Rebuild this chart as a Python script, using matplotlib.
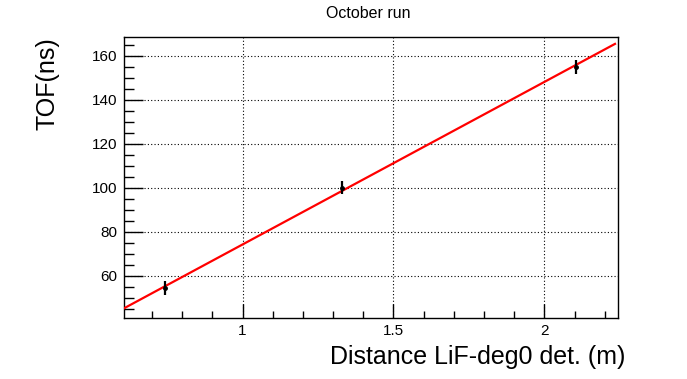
import matplotlib
matplotlib.use("Agg")
import matplotlib.pyplot as plt
import numpy as np
from matplotlib.ticker import MultipleLocator

plt.rcParams['font.family'] = ['Liberation Sans', 'DejaVu Sans']

distance = [0.743, 1.331, 2.105]
tof = [54.7, 100.1, 155.0]
tof_err = [3.2, 3.0, 3.2]
fit_slope = 73.8
fit_intercept = 0.5
fit_range = [0.607, 2.234]
x_range = [0.607, 2.244]
y_range = [40.9, 168.5]
title = "October run"
xlabel = "Distance LiF-deg0 det. (m)"
ylabel = "TOF(ns)"

fig = plt.figure(figsize=(6.87, 3.79), dpi=100)
ax = fig.add_axes([124/687, 1-318/379, (618-124)/687, (318-37)/379])

ax.set_xlim(*x_range)
ax.set_ylim(*y_range)

xf = np.array(fit_range)
ax.plot(xf, fit_intercept + fit_slope * xf, color='#ff0000', lw=1.6, zorder=3)
ax.errorbar(distance, tof, yerr=tof_err, fmt='o', ms=2.5, color='black',
            ecolor='black', elinewidth=1.6, capsize=0, zorder=4)

ax.xaxis.set_major_locator(MultipleLocator(0.5))
ax.xaxis.set_minor_locator(MultipleLocator(0.1))
ax.yaxis.set_major_locator(MultipleLocator(20))
ax.yaxis.set_minor_locator(MultipleLocator(5))
ax.xaxis.set_major_formatter(matplotlib.ticker.FuncFormatter(lambda v, p: f"{v:g}"))

ax.tick_params(axis='both', which='both', direction='in', color='black',
               labelsize=11, top=False, right=False)
ax.tick_params(axis='y', which='major', length=14, width=1, pad=5)
ax.tick_params(axis='y', which='minor', length=7, width=1)
ax.tick_params(axis='x', which='major', length=10, width=1, pad=4)
ax.tick_params(axis='x', which='minor', length=5, width=1)

ax.grid(True, which='major', color='black', linestyle=(0, (1, 2)), lw=0.8)
for s in ax.spines.values():
    s.set_linewidth(1)
    s.set_color('black')

fig.text(368/687, 1-14/379, title, ha='center', va='center', fontsize=11.5)
fig.text(625/687, 1-357/379, xlabel, ha='right', va='center', fontsize=18)
fig.text(47/687, 1-37/379, ylabel, ha='center', va='top', rotation=90, fontsize=18)

fig.savefig("out.png", dpi=100, facecolor='white')
